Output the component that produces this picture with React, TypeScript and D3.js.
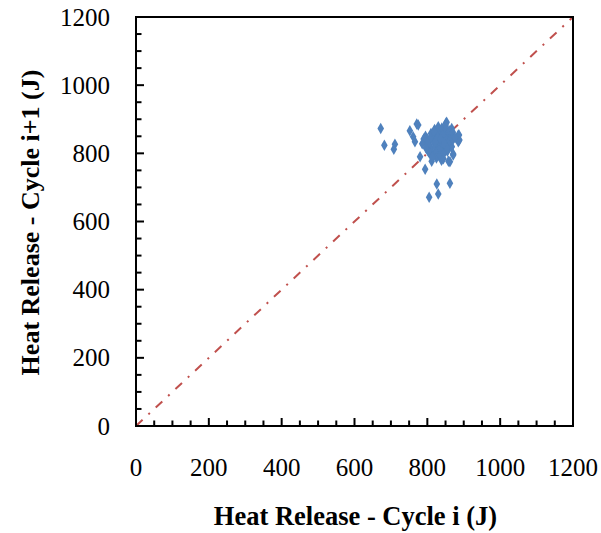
import React from "react";
import * as d3 from "d3";

const xDomain: [number, number] = [0, 1200];
const yDomain: [number, number] = [0, 1200];
const majorTicks = [0, 200, 400, 600, 800, 1000, 1200];
const minorTicks = d3.range(0, 1201, 50);
const xTitle = "Heat Release - Cycle i (J)";
const yTitle = "Heat Release - Cycle i+1 (J)";

// Heat release of cycle i (x) and cycle i+1 (y)
const cycleI = [
  672, 771, 752, 682, 711, 708, 851, 887, 888, 871, 862, 794, 826, 862, 805, 830,
  775, 853, 885, 885, 871, 858, 812, 780, 766, 761, 830, 867, 867, 803, 830, 839,
  795, 800, 805, 810, 815, 820, 825, 830, 835, 840, 845, 850, 855, 860, 865, 870,
  798, 808, 818, 828, 838, 848, 858, 868, 802, 812, 822, 832, 842, 852, 862, 806,
  816, 826, 836, 846, 856, 866, 790, 800, 810, 820, 830, 840, 850, 860, 870, 815,
  825, 835, 845, 855, 820, 830, 840, 850, 835, 845, 825, 842, 818, 848, 832, 838,
  786, 876, 796, 814, 844, 854, 828, 822, 836, 846,
];
const cycleI1 = [
  873, 886, 866, 824, 827, 812, 888, 854, 839, 798, 775, 753, 710, 712, 671, 681,
  883, 891, 854, 834, 795, 777, 777, 790, 834, 849, 873, 873, 820, 805, 795, 780,
  850, 842, 836, 858, 846, 862, 840, 868, 852, 860, 848, 870, 856, 866, 844, 862,
  828, 820, 832, 826, 836, 824, 838, 846, 812, 806, 818, 810, 822, 814, 828, 800,
  796, 804, 808, 800, 812, 818, 842, 830, 848, 852, 856, 838, 842, 834, 840, 790,
  786, 794, 802, 806, 870, 878, 874, 880, 816, 828, 856, 852, 864, 824, 838, 834,
  828, 846, 816, 788, 784, 816, 846, 834, 842, 830,
];

const W = 601;
const H = 533;
const left = 136;
const right = 573;
const top = 17;
const bottom = 426;

export default function App() {
  const x = d3.scaleLinear().domain(xDomain).range([left, right]);
  const y = d3.scaleLinear().domain(yDomain).range([bottom, top]);
  const diamond = d3.symbol().type(d3.symbolDiamond).size(38)();
  const points = cycleI.map((v, i) => [v, cycleI1[i]] as [number, number]);
  const font = "'Liberation Serif', 'Times New Roman', serif";

  return (
    <svg
      width={W}
      height={H}
      style={{ position: "absolute", left: 0, top: 0, background: "#fff" }}
    >
      <rect x={0} y={0} width={W} height={H} fill="#fff" />
      {/* diagonal */}
      <line
        x1={x(0)}
        y1={y(0)}
        x2={x(1200)}
        y2={y(1200)}
        stroke="#C0504D"
        strokeWidth={2}
        strokeDasharray="9 8 2 8"
      />
      {/* points */}
      {points.map((p, i) => (
        <path
          key={i}
          d={diamond as string}
          transform={`translate(${x(p[0])},${y(p[1])})`}
          fill="#4F81BD"
        />
      ))}
      {/* ticks */}
      {minorTicks.map((t) => {
        const len = majorTicks.includes(t) ? 8 : 5.5;
        return (
          <g key={t}>
            <line x1={x(t)} x2={x(t)} y1={bottom} y2={bottom - len} stroke="#000" strokeWidth={2} />
            <line x1={left} x2={left + len} y1={y(t)} y2={y(t)} stroke="#000" strokeWidth={2} />
          </g>
        );
      })}
      <rect
        x={left}
        y={top}
        width={right - left}
        height={bottom - top}
        fill="none"
        stroke="#000"
        strokeWidth={2}
      />
      {majorTicks.map((t) => (
        <text
          key={"x" + t}
          x={x(t)}
          y={476}
          textAnchor="middle"
          fontFamily={font}
          fontSize={25}
          fill="#000"
        >
          {t}
        </text>
      ))}
      {majorTicks.map((t) => (
        <text
          key={"y" + t}
          x={110}
          y={y(t)}
          dy="0.34em"
          textAnchor="end"
          fontFamily={font}
          fontSize={25}
          fill="#000"
        >
          {t}
        </text>
      ))}
      <text
        x={355.5}
        y={525}
        textAnchor="middle"
        fontFamily={font}
        fontSize={26.5}
        fontWeight="bold"
        fill="#000"
      >
        {xTitle}
      </text>
      <text
        transform={`translate(38.5,222.5) rotate(-90)`}
        textAnchor="middle"
        fontFamily={font}
        fontSize={26}
        fontWeight="bold"
        fill="#000"
      >
        {yTitle}
      </text>
    </svg>
  );
}
